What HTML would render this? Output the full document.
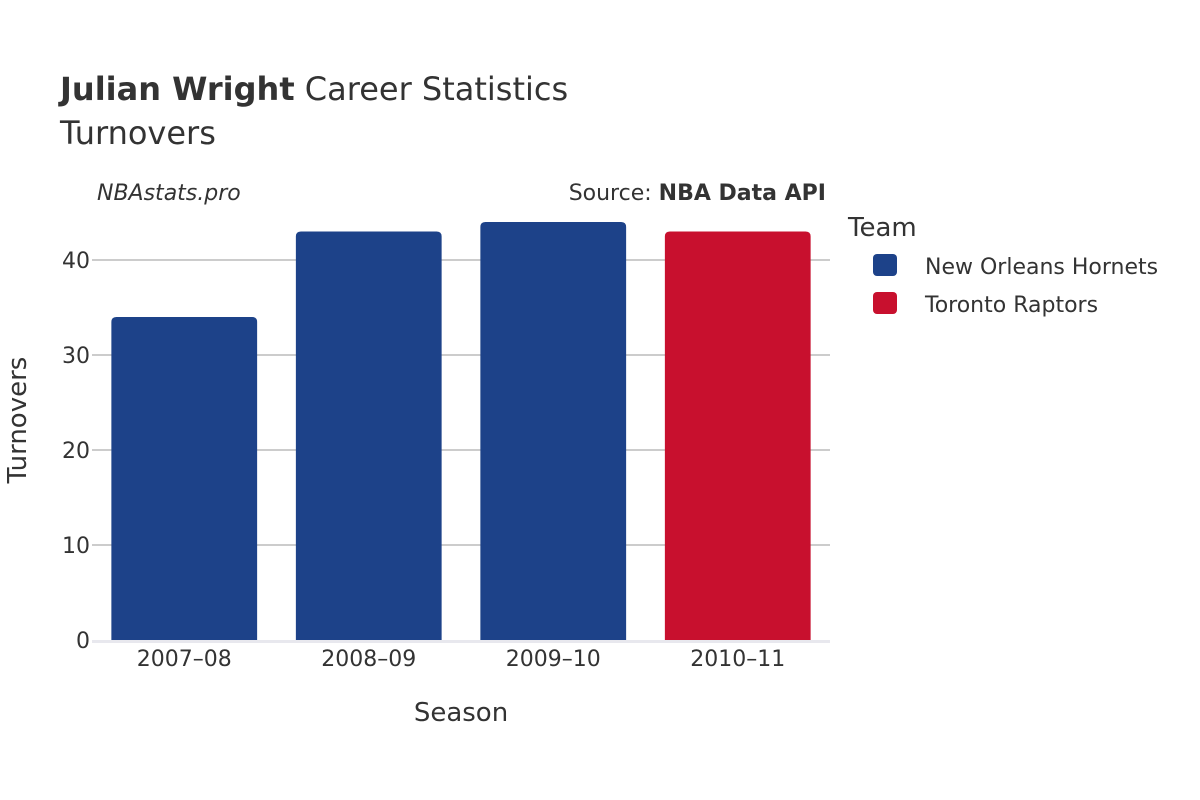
<!DOCTYPE html>
<html><head><meta charset="utf-8"><style>
body{margin:0;background:#fff;}
svg{display:block;font-family:"DejaVu Sans","Liberation Sans",sans-serif;}
</style></head><body>
<svg id="chart" width="1200" height="800">
<text x="60" y="100" font-size="32" fill="#333"><tspan font-weight="bold">Julian Wright</tspan> Career Statistics</text>
<text x="60" y="144" font-size="32" fill="#333">Turnovers</text>
<text x="97" y="200" font-size="22" font-style="italic" fill="#333">NBAstats.pro</text>
<text x="826" y="200" font-size="22" fill="#333" text-anchor="end">Source: <tspan font-weight="bold">NBA Data API</tspan></text>
<g id="grid"></g>
<g id="bars"></g>
<g id="xt"></g>
<text x="461" y="721" font-size="26" fill="#333" text-anchor="middle">Season</text>
<text transform="translate(26,420) rotate(-90)" font-size="26" fill="#333" text-anchor="middle">Turnovers</text>
<text x="848" y="236" font-size="26" fill="#333">Team</text>
<g><rect x="873" y="254" width="24" height="22" rx="4" fill="#1d4289"/><text x="925" y="274" font-size="22" fill="#333">New Orleans Hornets</text></g>
<g><rect x="873" y="292" width="24" height="22" rx="4" fill="#c8102e"/><text x="925" y="312" font-size="22" fill="#333">Toronto Raptors</text></g>
</svg>
<script>
const seasons=["2007–08","2008–09","2009–10","2010–11"];
const turnovers=[34,43,44,43];
const teams=["NOH","NOH","NOH","TOR"];
const yTicks=[0,10,20,30,40];
const colors={NOH:"#1d4289",TOR:"#c8102e"};
const NS="http://www.w3.org/2000/svg";
const x0=92,x1=830,y0=640,pxPerUnit=9.5;
const y=v=>y0-v*pxPerUnit;
const bw=(x1-x0)/seasons.length;
const xc=i=>x0+bw*(i+0.5);
const grid=document.getElementById('grid'),bars=document.getElementById('bars'),xt=document.getElementById('xt');
yTicks.forEach(t=>{
 if(t>0){const l=document.createElementNS(NS,'line');
 
 
 l.setAttribute('x1',x0);l.setAttribute('x2',x1);l.setAttribute('y1',y(t));l.setAttribute('y2',y(t));
 l.setAttribute('stroke','#bbb');l.setAttribute('stroke-width','1.5');grid.appendChild(l);}
 const tx=document.createElementNS(NS,'text');
 
 
 tx.setAttribute('x',x0-2);tx.setAttribute('y',y(t)+8);tx.setAttribute('text-anchor','end');
 tx.setAttribute('font-size','22');tx.setAttribute('fill','#333');tx.textContent=t;grid.appendChild(tx);
});
const base=document.createElementNS(NS,'line');


base.setAttribute('x1',x0);base.setAttribute('x2',x1);base.setAttribute('y1',y0+1.5);base.setAttribute('y2',y0+1.5);
base.setAttribute('stroke','#e8e8ee');base.setAttribute('stroke-width','3');grid.appendChild(base);
seasons.forEach((s,i)=>{
 const w=bw*0.79,left=xc(i)-w/2,top=y(turnovers[i]),r=5;
 const p=document.createElementNS(NS,'path');
 
 
 p.setAttribute('d',`M${left},${y0}V${top+r}Q${left},${top} ${left+r},${top}H${left+w-r}Q${left+w},${top} ${left+w},${top+r}V${y0}Z`);
 p.setAttribute('fill',colors[teams[i]]);bars.appendChild(p);
 const t=document.createElementNS(NS,'text');
 
 
 t.setAttribute('x',xc(i));t.setAttribute('y',666);t.setAttribute('text-anchor','middle');
 t.setAttribute('font-size','22');t.setAttribute('fill','#333');t.textContent=s;xt.appendChild(t);
});
</script>
</body></html>
